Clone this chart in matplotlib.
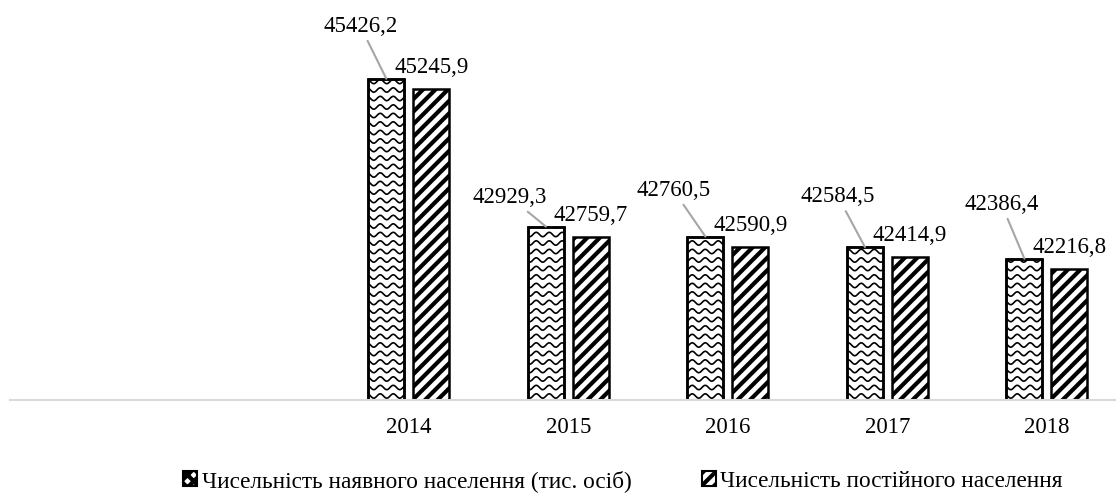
import numpy as np
import matplotlib.pyplot as plt
from matplotlib.patches import Patch
from matplotlib.collections import LineCollection
from matplotlib.transforms import IdentityTransform

# -----------------------------
# Data (тис. осіб)
# -----------------------------
years = ["2014", "2015", "2016", "2017", "2018"]
present_pop = [45426.2, 42929.3, 42760.5, 42584.5, 42386.4]
resident_pop = [45245.9, 42759.7, 42590.9, 42414.9, 42216.8]
series_names = ["Чисельність наявного населення (тис. осіб)",
                "Чисельність постійного населення"]

# hand placed label offsets (pixels) for the first series, as in the original
label_offsets = [(-26, 54), (-36, 31), (-32, 48), (-27, 52), (-23, 56)]

DPI = 150
plt.rcParams['font.family'] = ['Liberation Serif', 'DejaVu Serif']
plt.rcParams['hatch.linewidth'] = 2.0

fig = plt.figure(figsize=(1116 / DPI, 497 / DPI), dpi=DPI)
ax = fig.add_axes([10 / 1116, 97 / 497, 1106 / 1116, 400 / 497])

x = np.arange(len(years))
w = 0.226
off = 0.141
bars1 = ax.bar(x - off, present_pop, w, color='white', edgecolor='black',
               linewidth=1.2, zorder=2)
bars2 = ax.bar(x + off, resident_pop, w, color='white', edgecolor='black',
               linewidth=1.2, hatch='////', zorder=2)

ax.set_ylim(40000, 46755)
ax.set_xlim(-2.5, 4.433)

# wavy texture for the first series (no such hatch in matplotlib)
bb = ax.bbox
xs = np.arange(bb.x0, bb.x1, 1.0)
rows = []
for yy in np.arange(bb.y0 + 4, bb.y1 + 8, 8.5):
    ys = yy + 2.2 * np.sin(2 * np.pi * xs / 13.0)
    rows.append(np.column_stack([xs, ys]))
for b in bars1:
    lc = LineCollection(rows, colors='black', linewidths=0.8,
                        transform=IdentityTransform(), zorder=2.05)
    ax.add_collection(lc, autolim=False)
    lc.set_clip_path(b)
    # redraw the outline over the texture
    ax.bar(b.get_x() + b.get_width() / 2, b.get_height(), b.get_width(),
           fill=False, edgecolor='black', linewidth=1.2, zorder=2.1)

# data labels
for i, b in enumerate(bars1):
    dx, dy = label_offsets[i]
    ax.annotate(f"{present_pop[i]:.1f}".replace('.', ','),
                xy=(b.get_x() + b.get_width() / 2, b.get_height()),
                xytext=(dx, dy - 7), textcoords='offset pixels',
                ha='center', va='baseline', fontsize=11,
                arrowprops=dict(arrowstyle='-', color='#a6a6a6', lw=1.0,
                                shrinkA=0, shrinkB=0))
for i, b in enumerate(bars2):
    ax.annotate(f"{resident_pop[i]:.1f}".replace('.', ','),
                xy=(b.get_x() + b.get_width() / 2, b.get_height()),
                xytext=(0, 23 - 7), textcoords='offset pixels',
                ha='center', va='baseline', fontsize=11)

ax.set_xticks(x, years)
ax.tick_params(axis='x', length=0, pad=8, labelsize=11)
ax.set_yticks([])
for s in ['left', 'top', 'right']:
    ax.spines[s].set_visible(False)
ax.spines['bottom'].set_color('#d9d9d9')
ax.spines['bottom'].set_linewidth(1.0)
ax.spines['bottom'].set_zorder(3)

handles = [Patch(facecolor='white', edgecolor='black', hatch='xxxx', label=series_names[0]),
           Patch(facecolor='white', edgecolor='black', hatch='////', label=series_names[1])]
fig.legend(handles=handles, loc='center', bbox_to_anchor=(623 / 1116, 1 - 481 / 497),
           ncol=2, frameon=False, fontsize=11.2, handlelength=0.6, handleheight=0.6,
           handletextpad=0.2, columnspacing=3.0)

fig.savefig("out.png", dpi=DPI)
